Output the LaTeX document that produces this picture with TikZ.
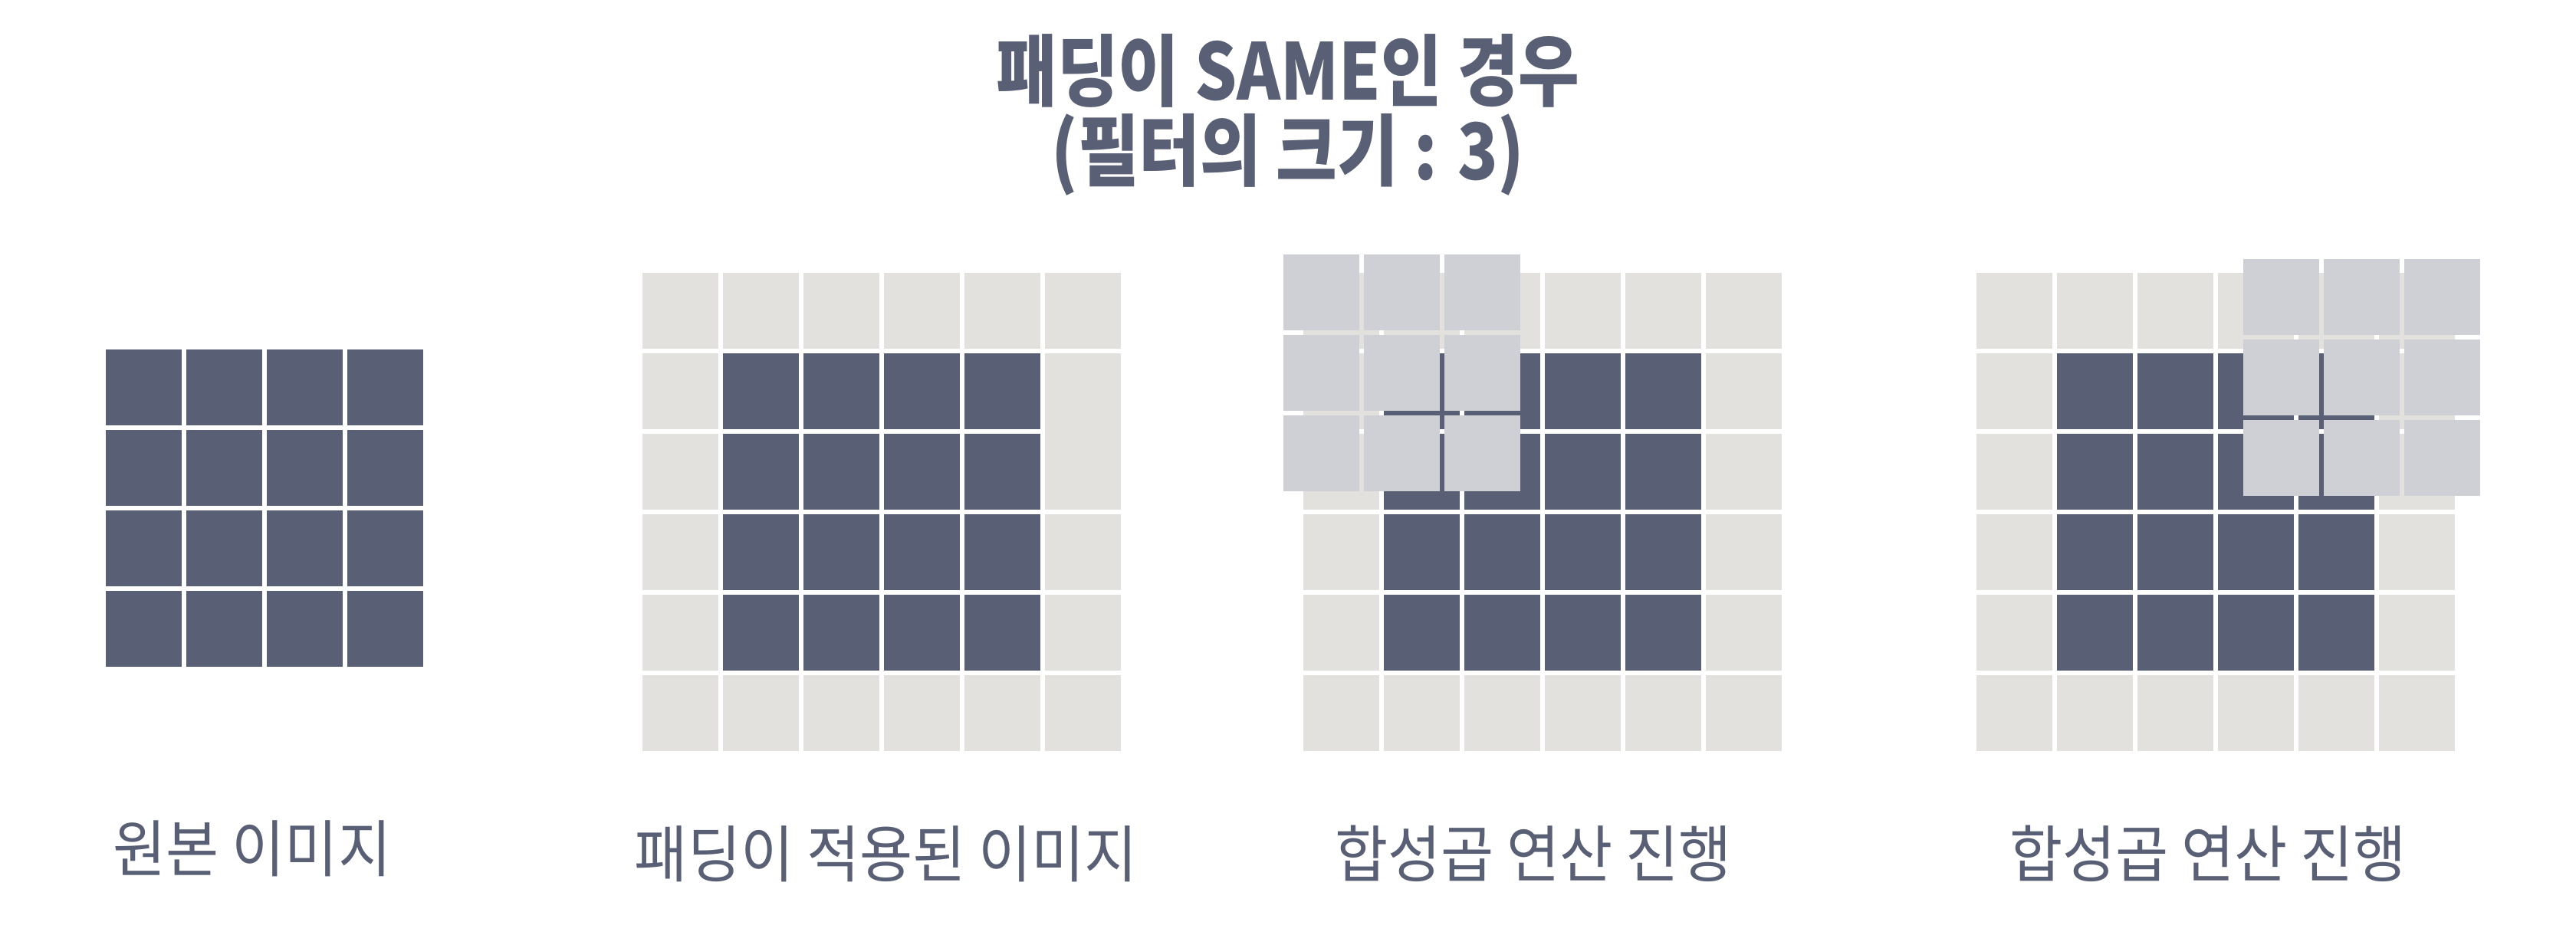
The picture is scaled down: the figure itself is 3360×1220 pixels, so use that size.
\documentclass[tikz,border=0pt]{standalone}
\usepackage{fontspec}
\newfontfamily\krfont[FakeStretch=0.93]{Noto Sans CJK KR}
\newfontfamily\krtitlefont[FakeStretch=0.85]{Noto Sans CJK KR}
\definecolor{padDark}{RGB}{89,95,116}
\definecolor{padLight}{RGB}{226,225,221}
\definecolor{padFilter}{RGB}{206,208,213}
\usetikzlibrary{positioning}

% 6x6 padded image, top-left corner at (#1,#2)
\newcommand{\padgrid}[2]{%
  \foreach \i in {0,...,5}
    \foreach \j in {0,...,5}
      \fill[padLight] ({#1+105*\i},{#2+105*\j}) rectangle ++(99,99);
  \foreach \i in {1,...,4}
    \foreach \j in {1,...,4}
      \fill[padDark] ({#1+105*\i},{#2+105*\j}) rectangle ++(99,99);
}
% 3x3 filter, top-left corner at (#1,#2)
\newcommand{\filtergrid}[2]{%
  \foreach \i in {0,...,2}
    \foreach \j in {0,...,2}
      \fill[padFilter] ({#1+105*\i},{#2+105*\j}) rectangle ++(99,99);
}

\begin{document}
\begin{tikzpicture}[
  x=0.1mm, y=-0.1mm,
  headline/.style={font=\krtitlefont\bfseries\fontsize{29}{29.5}\selectfont,
                   text=padDark, align=center},
  caption/.style={font=\krfont\fontsize{23}{26}\selectfont, text=padDark}
]
  \useasboundingbox (0,0) rectangle (3360,1220);

  \node[headline] (title) at (1680,150) {패딩이 SAME인 경우\\(필터의 크기 : 3)};

  % original image
  \foreach \i in {0,...,3}
    \foreach \j in {0,...,3}
      \fill[padDark] ({138+105*\i},{456+105*\j}) rectangle ++(99,99);

  % padded image
  \padgrid{838}{356}
  \fill[white] (1358,455) rectangle ++(110,214);
  \fill[padLight] (1363,461) rectangle ++(99,204);

  % convolution, two positions of the filter
  \padgrid{1700}{356}
  \filtergrid{1674}{332}
  \padgrid{2578}{356}
  \filtergrid{2926}{338}

  \node[caption] (orig)  at (329,1107)  {원본 이미지};
  \node[caption] (pad)   at (1156,1114) {패딩이 적용된 이미지};
  \node[caption] (conv1) at (2000,1114) {합성곱 연산 진행};
  \node[caption] (conv2) at (2880,1114) {합성곱 연산 진행};
\end{tikzpicture}
\end{document}
